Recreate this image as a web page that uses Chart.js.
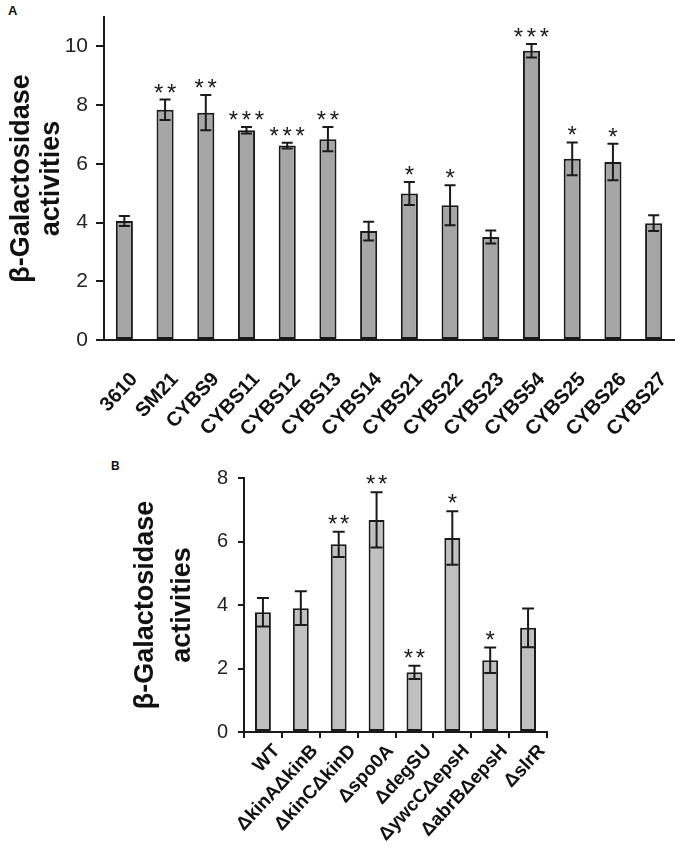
<!DOCTYPE html>
<html>
<head>
<meta charset="utf-8">
<script src="https://cdn.jsdelivr.net/npm/chart.js@4/dist/chart.umd.min.js"></script>
<style>
  html, body { margin: 0; padding: 0; background: #fff; }
  #wrap { position: relative; width: 675px; height: 850px; overflow: hidden; background: #fff; }
  canvas { position: absolute; left: 0; }
  .panel { position: absolute; font-family: 'Liberation Sans', Arial, sans-serif; font-weight: bold; line-height: 1; color: #111; }
</style>
</head>
<body>
<div id="wrap">
  <div class="panel" style="left:8px;top:4px;font-size:13px;">A</div>
  <canvas id="cA" width="675" height="440" style="top:0px;width:675px;height:440px;"></canvas>
  <div class="panel" style="left:111px;top:460px;font-size:12px;">B</div>
  <canvas id="cB" width="675" height="410" style="top:440px;width:675px;height:410px;"></canvas>
</div>
<script>
// ---- Panel A data ----
const catsA = ['3610','SM21','CYBS9','CYBS11','CYBS12','CYBS13','CYBS14','CYBS21','CYBS22','CYBS23','CYBS54','CYBS25','CYBS26','CYBS27'];
const valsA = [4.05, 7.84, 7.74, 7.14, 6.62, 6.84, 3.71, 4.99, 4.59, 3.51, 9.85, 6.17, 6.06, 3.98];
const errA  = [0.17, 0.35, 0.60, 0.11, 0.10, 0.41, 0.32, 0.39, 0.68, 0.22, 0.23, 0.56, 0.62, 0.27];
const sigA  = ['', '**', '**', '***', '***', '**', '', '*', '*', '', '***', '*', '*', ''];
const yTicksA = [0, 2, 4, 6, 8, 10];

// ---- Panel B data ----
const catsB = ['WT','ΔkinAΔkinB','ΔkinCΔkinD','Δspo0A','ΔdegSU','ΔywcCΔepsH','ΔabrBΔepsH','ΔslrR'];
const valsB = [3.77, 3.90, 5.91, 6.68, 1.88, 6.11, 2.26, 3.28];
const errB  = [0.45, 0.53, 0.40, 0.87, 0.21, 0.84, 0.40, 0.61];
const sigB  = ['', '', '**', '**', '**', '*', '*', ''];
const yTicksB = [0, 2, 4, 6, 8];

const yTitle = ['β-Galactosidase', 'activities'];
const FAMILY = "'Liberation Sans', Arial, Helvetica, sans-serif";
const INK = '#1a1a1a';

function errPlugin(vals, errs, sigs, cfg) {
  return {
    id: 'errbars',
    afterDatasetsDraw(chart) {
      const ctx = chart.ctx;
      const meta = chart.getDatasetMeta(0);
      const y = chart.scales.y;
      ctx.save();
      ctx.strokeStyle = INK;
      ctx.lineWidth = cfg.lineWidth;
      meta.data.forEach((bar, i) => {
        const v = vals[i], e = errs[i];
        const yt = y.getPixelForValue(v + e);
        const yb = y.getPixelForValue(v - e);
        const x = bar.x, hw = cfg.cap / 2;
        ctx.beginPath();
        ctx.moveTo(x, yt); ctx.lineTo(x, yb);
        ctx.moveTo(x - hw, yt); ctx.lineTo(x + hw, yt);
        ctx.moveTo(x - hw, yb); ctx.lineTo(x + hw, yb);
        ctx.stroke();
        const s = sigs[i];
        if (s) {
          ctx.fillStyle = INK;
          ctx.font = cfg.starSize + 'px ' + FAMILY;
          ctx.textAlign = 'center';
          ctx.textBaseline = 'alphabetic';
          const n = s.length;
          const cy = yt - cfg.starOffset;
          for (let k = 0; k < n; k++) {
            const sx = x + (k - (n - 1) / 2) * cfg.starGap;
            ctx.fillText('*', sx, cy + cfg.starSize * 0.585);
          }
        }
      });
      ctx.restore();
    }
  };
}

function zeroPad(scale) {
  scale.paddingLeft = 0; scale.paddingRight = 0; scale.paddingTop = 0; scale.paddingBottom = 0;
}

function makeChart(id, cats, vals, errs, sigs, yTicks, L) {
  return new Chart(document.getElementById(id), {
    type: 'bar',
    data: {
      labels: cats,
      datasets: [{
        data: vals,
        backgroundColor: L.barColor,
        borderColor: INK,
        borderWidth: 2,
        borderSkipped: false,
        barPercentage: 0.42,
        categoryPercentage: 1.0
      }]
    },
    options: {
      responsive: false,
      animation: false,
      devicePixelRatio: 1,
      layout: { padding: { top: L.top, right: L.right, left: 0, bottom: 0 } },
      plugins: { legend: { display: false }, tooltip: { enabled: false } },
      scales: {
        x: {
          border: { display: true, color: INK, width: 2 },
          grid: { display: L.xTicks, drawOnChartArea: false, drawTicks: L.xTicks, tickLength: 6, color: INK, lineWidth: 2, offset: true },
          ticks: {
            autoSkip: false, minRotation: L.rot, maxRotation: L.rot, padding: L.xPad,
            labelOffset: L.xShift,
            color: '#111',
            font: { family: FAMILY, size: L.xFont, weight: 'bold' }
          },
          afterCalculateLabelRotation(scale) { scale.labelRotation = L.rot; },
          afterFit(scale) { scale.height = L.xHeight; zeroPad(scale); }
        },
        y: {
          min: 0, max: L.ymax,
          border: { display: true, color: INK, width: 2 },
          grid: { display: true, drawOnChartArea: false, drawTicks: true, tickLength: L.yTick, color: INK, lineWidth: 2 },
          ticks: {
            color: '#222', padding: L.yPad,
            font: { family: FAMILY, size: L.yFont }
          },
          afterBuildTicks(scale) { scale.ticks = yTicks.map(v => ({ value: v })); },
          title: {
            display: true, text: yTitle, color: '#111',
            font: { family: FAMILY, size: 27, weight: 'bold', lineHeight: L.titleLH },
            padding: { top: L.titlePad, bottom: 0 }
          },
          afterFit(scale) { scale.width = L.yWidth; zeroPad(scale); }
        }
      }
    },
    plugins: [errPlugin(vals, errs, sigs, L.err)]
  });
}

makeChart('cA', catsA, valsA, errA, sigA, yTicksA, {
  barColor: '#a6a6a6', top: 17, right: 1, ymax: 11,
  xTicks: false, xPad: 28, xShift: 10, xFont: 20, xHeight: 100, rot: 47,
  yTick: 8, yPad: 8, yFont: 21, yWidth: 104,
  titleLH: 1.11, titlePad: 7,
  err: { lineWidth: 2, cap: 11, starSize: 24, starGap: 13, starOffset: 13 }
});

makeChart('cB', catsB, valsB, errB, sigB, yTicksB, {
  barColor: '#c0c0c0', top: 38, right: 128, ymax: 8,
  xTicks: true, xPad: 2, xShift: 14, xFont: 19, xHeight: 118, rot: 47,
  yTick: 6, yPad: 10, yFont: 20, yWidth: 244,
  titleLH: 1.37, titlePad: 127,
  err: { lineWidth: 2, cap: 12, starSize: 24, starGap: 12, starOffset: 14 }
});
</script>
</body>
</html>
